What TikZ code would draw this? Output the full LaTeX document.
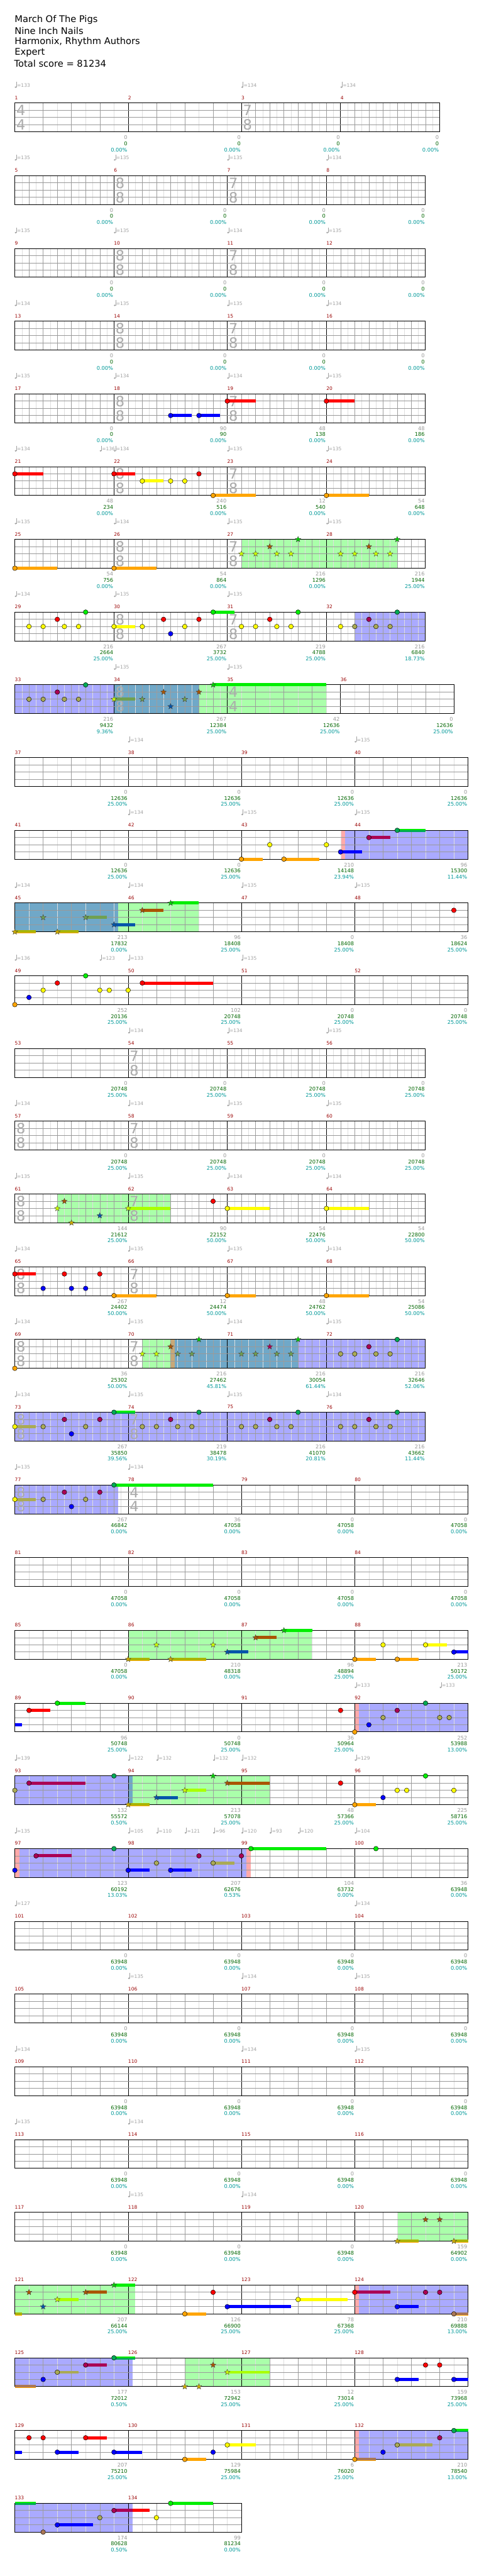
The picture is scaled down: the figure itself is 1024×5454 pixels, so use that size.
\documentclass[tikz,border=0pt]{standalone}
\usepackage{fontspec}
\setmainfont{DejaVu Sans}
\usetikzlibrary{shapes.geometric, backgrounds}

% colours of the chart
\definecolor{barred}{HTML}{990000}
\definecolor{tempogray}{HTML}{A0A0A0}
\definecolor{siggray}{HTML}{ABABAB}
\definecolor{ptgray}{HTML}{999999}
\definecolor{ptgreen}{HTML}{006600}
\definecolor{ptteal}{HTML}{009999}
\definecolor{spgreen}{HTML}{AAFFAA}
\definecolor{odblue}{HTML}{AAAAFF}
\definecolor{odboth}{HTML}{70A8C8}
\definecolor{odpink}{HTML}{FFAAAA}
\definecolor{odtan}{HTML}{C8A878}
% frets
\definecolor{nG}{HTML}{00EE00}
\definecolor{nR}{HTML}{FF0000}
\definecolor{nY}{HTML}{FFFF00}
\definecolor{nB}{HTML}{0000FF}
\definecolor{nO}{HTML}{FFA500}
% frets under overdrive
\definecolor{aG}{HTML}{00AA55}
\definecolor{aR}{HTML}{AA0055}
\definecolor{aY}{HTML}{AAAA55}
\definecolor{aO}{HTML}{AA7755}
% star notes
\definecolor{sG}{HTML}{00CC00}
\definecolor{sR}{HTML}{AA5500}
\definecolor{sY}{HTML}{CCFF00}
\definecolor{sB}{HTML}{0055AA}
\definecolor{sO}{HTML}{CCAA00}
\definecolor{sYs}{HTML}{AAFF00}
\definecolor{sOs}{HTML}{AAB400}
\definecolor{sYd}{HTML}{70A050}

\tikzset{
    note/.style={circle, draw=black, line width=0.6pt, minimum size=10pt, inner sep=0pt},
    starnote/.style={star, star points=5, star point ratio=2.3, draw=black!75, line width=0.5pt, minimum size=12.5pt, inner sep=0pt},
    barnum/.style={anchor=west, text=barred, font=\fontsize{10}{11}\selectfont, inner sep=0pt},
    tempotext/.style={anchor=west, text=tempogray, font=\fontsize{10}{11}\selectfont, inner sep=0pt},
    sig/.style={text=siggray, font=\fontsize{30}{30}\selectfont, inner sep=0pt},
    ptsa/.style={anchor=east, text=ptgray, font=\fontsize{11}{12}\selectfont, inner sep=0pt},
    ptsb/.style={anchor=east, text=ptgreen, font=\fontsize{11}{12}\selectfont, inner sep=0pt},
    ptsc/.style={anchor=east, text=ptteal, font=\fontsize{11}{12}\selectfont, inner sep=0pt},
    titletext/.style={anchor=west, font=\fontsize{19.5}{22}\selectfont, inner sep=0pt},
    subline/.style={draw=black!13, line width=0.6pt},
    beatline/.style={draw=black!38, line width=0.7pt},
    laneline/.style={draw=black!40, line width=1.1pt},
    barline/.style={draw=black, line width=0.8pt},
    staffbox/.style={draw=black, line width=1.3pt}
}

\newcounter{nn}
% one row of the chart, #1 = row index
\newenvironment{chartrow}[1]{\begin{scope}[shift={(0,{218+154*(#1)})}]}{\end{scope}}

% measure: number, start, length, beat (in eighths)
\newcommand{\meas}[4]{%
  \pgfmathtruncatemacro{\mnum}{#1}%
  \pgfmathsetmacro{\mx}{31.4+30*(#2)}%
  \pgfmathsetmacro{\mdx}{15*(#4)}%
  \pgfmathtruncatemacro{\msub}{2*(#3)/(#4)-1}%
  \foreach \kk in {1,...,\msub}{%
    \pgfmathtruncatemacro{\kodd}{mod(\kk,2)}%
    \ifnum\kodd=1 \draw[subline] ({\mx+\kk*\mdx},0) -- ++(0,61);%
    \else \draw[beatline] ({\mx+\kk*\mdx},0) -- ++(0,61);\fi}%
  \draw[barline] (\mx,0) -- ++(0,61);%
  \node[barnum] (m\mnum) at (\mx,-11) {\mnum};%
}
\newcommand{\staff}[1]{%
  \pgfmathsetmacro{\sx}{31.4+30*(#1)}%
  \foreach \lane in {1,2,3}{\draw[laneline] (31.4,{15.25*\lane}) -- (\sx,{15.25*\lane});}%
  \draw[staffbox] (31.4,0) rectangle (\sx,61);}
\newcommand{\tsig}[3]{\stepcounter{nn}%
  \node[sig] (s\arabic{nn}a) at ({31.4+30*(#1)+13},15.5) {#2};%
  \node[sig] (s\arabic{nn}b) at ({31.4+30*(#1)+13},46) {#3};}
\newcommand{\tempo}[2]{\stepcounter{nn}%
  \pgfmathsetmacro{\tx}{31.4+30*(#1)}%
  \fill[tempogray] ({\tx+1.7},-33.5) ellipse (2pt and 1.7pt);%
  \draw[tempogray, line width=0.7pt] ({\tx+3.5},-33.5) -- ({\tx+3.5},-44.5);%
  \node[tempotext] (t\arabic{nn}) at ({\tx+4.6},-37.5) {=#2};}
\newcommand{\pts}[4]{\stepcounter{nn}%
  \pgfmathsetmacro{\px}{31.4+30*(#1)-1.5}%
  \node[ptsa] (p\arabic{nn}a) at (\px,73) {#2};%
  \node[ptsb] (p\arabic{nn}b) at (\px,86) {#3};%
  \node[ptsc] (p\arabic{nn}c) at (\px,99) {#4\%};}
\newcommand{\region}[3]{\begin{scope}[on background layer]%
  \fill[#3] ({31.4+30*(#1)},0) rectangle ({31.4+30*(#2)},61);\end{scope}}
% notes: time, lane (0 green .. 4 orange), colour
\newcommand{\nt}[3]{\stepcounter{nn}%
  \node[note, fill=#3] (n\arabic{nn}) at ({31.4+30*(#1)},{15.25*(#2)}) {};}
\newcommand{\st}[3]{\stepcounter{nn}%
  \node[starnote, fill=#3] (n\arabic{nn}) at ({31.4+30*(#1)},{15.25*(#2)}) {};}
\newcommand{\sus}[4]{\fill[#4] ({31.4+30*(#1)},{15.25*(#2)-3.3}) rectangle ++({30*(#3)},6.6);}
\newcommand{\ns}[4]{\sus{#1}{#2}{#4}{#3}\nt{#1}{#2}{#3}}
\newcommand{\susgg}[3]{%
  \fill[nG] ({31.4+30*(#1)},{15.25*(#2)-3.3}) rectangle ++({30*(#3)},3.3);%
  \fill[aG] ({31.4+30*(#1)},{15.25*(#2)}) rectangle ++({30*(#3)},3.3);}
\newcommand{\suso}[3]{%
  \fill[#3] ({31.4+30*(#1)},57.7) rectangle ++({30*(#2)},5);%
  \fill[nO] ({31.4+30*(#1)},62.7) rectangle ++({30*(#2)},1.6);}

% row layouts
\newcommand{\rowfourfour}[1]{\meas{#1}{0}{8}{2}\meas{#1+1}{8}{8}{2}\meas{#1+2}{16}{8}{2}\meas{#1+3}{24}{8}{2}\staff{32}}
\newcommand{\rowseven}[1]{\meas{#1}{0}{7}{1}\meas{#1+1}{7}{8}{1}\meas{#1+2}{15}{7}{1}\meas{#1+3}{22}{7}{1}\staff{29}\tsig{7}{8}{8}\tsig{15}{7}{8}}
\newcommand{\roweight}[1]{\meas{#1}{0}{8}{1}\meas{#1+1}{8}{7}{1}\meas{#1+2}{15}{7}{1}\meas{#1+3}{22}{7}{1}\staff{29}\tsig{0}{8}{8}\tsig{8}{7}{8}}

\begin{document}
\begin{tikzpicture}[x=1pt, y=-1pt]
    \useasboundingbox (0,0) rectangle (1024,5454);
    \begin{scope}[on background layer]
        \fill[white] (0,0) rectangle (1024,5454);
    \end{scope}

    % heading
    \node[titletext] (song) at (31,42) {March Of The Pigs};
    \node[titletext] (artist) at (31,65) {Nine Inch Nails};
    \node[titletext] (charter) at (31,88) {Harmonix, Rhythm Authors};
    \node[titletext] (level) at (31,111) {Expert};
    \node[titletext] (total) at (30,134) {Total score = 81234};

    % 1-4
    \begin{chartrow}{0}
        \meas{1}{0}{8}{2}\meas{2}{8}{8}{2}\meas{3}{16}{7}{1}\meas{4}{23}{7}{1}\staff{30}
        \tsig{0}{4}{4}\tsig{16}{7}{8}
        \tempo{0}{133}\tempo{16}{134}\tempo{23}{134}
        \pts{8}{0}{0}{0.00}\pts{16}{0}{0}{0.00}\pts{23}{0}{0}{0.00}\pts{30}{0}{0}{0.00}
    \end{chartrow}
    % 5-8
    \begin{chartrow}{1}
        \rowseven{5}
        \tempo{0}{135}\tempo{7}{135}\tempo{15}{135}\tempo{22}{134}
        \pts{7}{0}{0}{0.00}\pts{15}{0}{0}{0.00}\pts{22}{0}{0}{0.00}\pts{29}{0}{0}{0.00}
    \end{chartrow}
    % 9-12
    \begin{chartrow}{2}
        \rowseven{9}
        \tempo{0}{135}\tempo{7}{135}\tempo{15}{134}\tempo{22}{135}
        \pts{7}{0}{0}{0.00}\pts{15}{0}{0}{0.00}\pts{22}{0}{0}{0.00}\pts{29}{0}{0}{0.00}
    \end{chartrow}
    % 13-16
    \begin{chartrow}{3}
        \rowseven{13}
        \tempo{0}{134}\tempo{7}{135}\tempo{15}{135}\tempo{22}{134}
        \pts{7}{0}{0}{0.00}\pts{15}{0}{0}{0.00}\pts{22}{0}{0}{0.00}\pts{29}{0}{0}{0.00}
    \end{chartrow}
    % 17-20
    \begin{chartrow}{4}
        \rowseven{17}
        \tempo{0}{135}\tempo{7}{134}\tempo{15}{134}\tempo{22}{135}
        \ns{11}{3}{nB}{1.5}\ns{13}{3}{nB}{1.5}\ns{15}{1}{nR}{2}\ns{22}{1}{nR}{2}
        \pts{7}{0}{0}{0.00}\pts{15}{90}{90}{0.00}\pts{22}{48}{138}{0.00}\pts{29}{48}{186}{0.00}
    \end{chartrow}
    % 21-24
    \begin{chartrow}{5}
        \rowseven{21}
        \tempo{0}{134}\tempo{6}{136}\tempo{7}{134}\tempo{15}{135}\tempo{22}{135}
        \ns{0}{1}{nR}{2}\ns{7}{1}{nR}{1.5}\ns{9}{2}{nY}{1.5}\nt{11}{2}{nY}\nt{12}{2}{nY}\nt{13}{1}{nR}
        \ns{14}{4}{nO}{3}\ns{22}{4}{nO}{3}
        \pts{7}{48}{234}{0.00}\pts{15}{240}{516}{0.00}\pts{22}{12}{540}{0.00}\pts{29}{54}{648}{0.00}
    \end{chartrow}
    % 25-28
    \begin{chartrow}{6}
        \rowseven{25}
        \tempo{0}{135}\tempo{7}{134}\tempo{15}{135}\tempo{22}{135}
        \region{16}{27}{spgreen}
        \ns{0}{4}{nO}{3}\ns{7}{4}{nO}{3}
        \st{16}{2}{sY}\st{17}{2}{sY}\st{18}{1}{sR}\st{18.5}{2}{sY}\st{19.5}{2}{sY}\st{20}{0}{sG}
        \st{23}{2}{sY}\st{24}{2}{sY}\st{25}{1}{sR}\st{25.5}{2}{sY}\st{26.5}{2}{sY}\st{27}{0}{sG}
        \pts{7}{54}{756}{0.00}\pts{15}{54}{864}{0.00}\pts{22}{216}{1296}{0.00}\pts{29}{216}{1944}{25.00}
    \end{chartrow}
    % 29-32
    \begin{chartrow}{7}
        \rowseven{29}
        \tempo{0}{134}\tempo{7}{135}\tempo{15}{135}
        \region{24}{29}{odblue}
        \nt{1}{2}{nY}\nt{2}{2}{nY}\nt{3}{1}{nR}\nt{3.5}{2}{nY}\nt{4.5}{2}{nY}\nt{5}{0}{nG}
        \ns{7}{2}{nY}{1.5}\nt{9}{2}{nY}\nt{10.5}{1}{nR}\nt{11}{3}{nB}\nt{12}{2}{nY}\nt{13}{1}{nR}\ns{14}{0}{nG}{1.5}
        \nt{16}{2}{nY}\nt{17}{2}{nY}\nt{18}{1}{nR}\nt{18.5}{2}{nY}\nt{19.5}{2}{nY}\nt{20}{0}{nG}
        \nt{23}{2}{nY}\nt{24}{2}{aY}\nt{25}{1}{aR}\nt{25.5}{2}{aY}\nt{26.5}{2}{aY}\nt{27}{0}{aG}
        \pts{7}{216}{2664}{25.00}\pts{15}{267}{3732}{25.00}\pts{22}{219}{4788}{25.00}\pts{29}{216}{6840}{18.73}
    \end{chartrow}
    % 33-36
    \begin{chartrow}{8}
        \meas{33}{0}{7}{1}\meas{34}{7}{8}{1}\meas{35}{15}{8}{2}\meas{36}{23}{8}{2}\staff{31}
        \tsig{7}{8}{8}\tsig{15}{4}{4}
        \tempo{7}{135}\tempo{15}{135}
        \region{0}{7}{odblue}\region{7}{13}{odboth}\region{13}{22}{spgreen}
        \nt{1}{2}{aY}\nt{2}{2}{aY}\nt{3}{1}{aR}\nt{3.5}{2}{aY}\nt{4.5}{2}{aY}\nt{5}{0}{aG}
        \sus{7}{2}{1.5}{sYd}\st{7}{2}{sY}\st{9}{2}{sYd}\st{10.5}{1}{sR}\st{11}{3}{sB}\st{12}{2}{sYd}\st{13}{1}{sR}
        \sus{14}{0}{8}{nG}\st{14}{0}{sG}
        \pts{7}{216}{9432}{9.36}\pts{15}{267}{12384}{25.00}\pts{23}{42}{12636}{25.00}\pts{31}{0}{12636}{25.00}
    \end{chartrow}
    % 37-40
    \begin{chartrow}{9}
        \rowfourfour{37}
        \tempo{8}{134}\tempo{24}{135}
        \pts{8}{0}{12636}{25.00}\pts{16}{0}{12636}{25.00}\pts{24}{0}{12636}{25.00}\pts{32}{0}{12636}{25.00}
    \end{chartrow}
    % 41-44
    \begin{chartrow}{10}
        \rowfourfour{41}
        \tempo{8}{134}\tempo{16}{135}\tempo{24}{135}
        \region{23}{23.3}{odpink}\region{23.3}{32}{odblue}
        \ns{16}{4}{nO}{1.5}\nt{18}{2}{nY}\ns{19}{4}{nO}{2.5}\nt{22}{2}{nY}\ns{23}{3}{nB}{1.5}
        \ns{25}{1}{aR}{1.5}\susgg{27}{0}{2}\nt{27}{0}{aG}
        \pts{8}{0}{12636}{25.00}\pts{16}{0}{12636}{25.00}\pts{24}{210}{14148}{23.94}\pts{32}{96}{15300}{11.44}
    \end{chartrow}
    % 45-48
    \begin{chartrow}{11}
        \rowfourfour{45}
        \tempo{0}{134}\tempo{8}{134}\tempo{16}{135}\tempo{24}{135}
        \region{0}{7.3}{odboth}\region{7.3}{13}{spgreen}
        \suso{0}{1.5}{sOs}\st{0}{4}{sO}\st{2}{2}{sYd}\suso{3}{1.5}{sOs}\st{3}{4}{sO}
        \sus{5}{2}{1.5}{sYd}\st{5}{2}{sYd}\sus{7}{3}{1.5}{sB}\st{7}{3}{sB}
        \sus{9}{1}{1.5}{sR}\st{9}{1}{sR}\sus{11}{0}{2}{nG}\st{11}{0}{sG}
        \nt{31}{1}{nR}
        \pts{8}{213}{17832}{0.00}\pts{16}{96}{18408}{25.00}\pts{24}{0}{18408}{25.00}\pts{32}{36}{18624}{25.00}
    \end{chartrow}
    % 49-52
    \begin{chartrow}{12}
        \rowfourfour{49}
        \tempo{0}{136}\tempo{6}{123}\tempo{8}{133}\tempo{16}{135}
        \nt{0}{4}{nO}\nt{1}{3}{nB}\nt{2}{2}{nY}\nt{3}{1}{nR}\nt{5}{0}{nG}\nt{6}{2}{nY}\nt{6.67}{2}{nY}\nt{8}{2}{nY}
        \ns{9}{1}{nR}{5}
        \pts{8}{252}{20136}{25.00}\pts{16}{102}{20748}{25.00}\pts{24}{0}{20748}{25.00}\pts{32}{0}{20748}{25.00}
    \end{chartrow}
    % 53-56
    \begin{chartrow}{13}
        \meas{53}{0}{8}{2}\meas{54}{8}{7}{1}\meas{55}{15}{7}{1}\meas{56}{22}{7}{1}\staff{29}
        \tsig{8}{7}{8}
        \tempo{8}{134}\tempo{15}{134}\tempo{22}{135}
        \pts{8}{0}{20748}{25.00}\pts{15}{0}{20748}{25.00}\pts{22}{0}{20748}{25.00}\pts{29}{0}{20748}{25.00}
    \end{chartrow}
    % 57-60
    \begin{chartrow}{14}
        \roweight{57}
        \tempo{0}{134}\tempo{8}{134}\tempo{15}{135}\tempo{22}{135}
        \pts{8}{0}{20748}{25.00}\pts{15}{0}{20748}{25.00}\pts{22}{0}{20748}{25.00}\pts{29}{0}{20748}{25.00}
    \end{chartrow}
    % 61-64
    \begin{chartrow}{15}
        \roweight{61}
        \tempo{0}{135}\tempo{8}{135}\tempo{15}{134}\tempo{22}{134}
        \region{3}{11}{spgreen}
        \st{3}{2}{sY}\st{3.5}{1}{sR}\st{4}{4}{sO}\st{6}{3}{sB}\sus{8}{2}{3}{sYs}\st{8}{2}{sY}
        \nt{14}{1}{nR}\ns{15}{2}{nY}{3}\ns{22}{2}{nY}{3}
        \pts{8}{144}{21612}{25.00}\pts{15}{90}{22152}{50.00}\pts{22}{54}{22476}{50.00}\pts{29}{54}{22800}{50.00}
    \end{chartrow}
    % 65-68
    \begin{chartrow}{16}
        \roweight{65}
        \tempo{0}{134}\tempo{8}{135}\tempo{15}{135}\tempo{22}{134}
        \ns{0}{1}{nR}{1.5}\nt{2}{3}{nB}\nt{3.5}{1}{nR}\nt{4}{3}{nB}\nt{5}{3}{nB}\nt{6}{1}{nR}
        \ns{7}{4}{nO}{3}\ns{15}{4}{nO}{2}\ns{22}{4}{nO}{3}
        \pts{8}{267}{24402}{50.00}\pts{15}{12}{24474}{50.00}\pts{22}{48}{24762}{50.00}\pts{29}{54}{25086}{50.00}
    \end{chartrow}
    % 69-72
    \begin{chartrow}{17}
        \roweight{69}
        \tempo{0}{134}\tempo{8}{135}\tempo{15}{134}\tempo{22}{135}
        \region{9}{11}{spgreen}\region{11}{11.3}{odtan}\region{11.3}{20}{odboth}\region{20}{29}{odblue}
        \nt{0}{4}{nO}
        \st{9}{2}{sY}\st{10}{2}{sY}\st{11}{1}{sR}\st{11.5}{2}{sYd}\st{12.5}{2}{sYd}\st{13}{0}{sG}
        \st{16}{2}{sYd}\st{17}{2}{sYd}\st{18}{1}{aR}\st{18.5}{2}{sYd}\st{19.5}{2}{sYd}\st{20}{0}{sG}
        \nt{23}{2}{aY}\nt{24}{2}{aY}\nt{25}{1}{aR}\nt{25.5}{2}{aY}\nt{26.5}{2}{aY}\nt{27}{0}{aG}
        \pts{8}{36}{25302}{50.00}\pts{15}{216}{27462}{45.81}\pts{22}{216}{30054}{61.44}\pts{29}{216}{32646}{52.06}
    \end{chartrow}
    % 73-76
    \begin{chartrow}{18}
        \roweight{73}
        \tempo{0}{134}\tempo{8}{135}\tempo{15}{135}\tempo{22}{134}
        \region{0}{29}{odblue}
        \sus{0}{2}{1.5}{aY}\nt{0}{2}{nY}\nt{2}{2}{aY}\nt{3.5}{1}{aR}\nt{4}{3}{nB}\nt{5}{2}{aY}\nt{6}{1}{aR}\susgg{7}{0}{1.5}\nt{7}{0}{aG}
        \nt{9}{2}{aY}\nt{10}{2}{aY}\nt{11}{1}{aR}\nt{11.5}{2}{aY}\nt{12.5}{2}{aY}\nt{13}{0}{aG}
        \nt{16}{2}{aY}\nt{17}{2}{aY}\nt{18}{1}{aR}\nt{18.5}{2}{aY}\nt{19.5}{2}{aY}\nt{20}{0}{aG}
        \nt{23}{2}{aY}\nt{24}{2}{aY}\nt{25}{1}{aR}\nt{25.5}{2}{aY}\nt{26.5}{2}{aY}\nt{27}{0}{aG}
        \pts{8}{267}{35850}{39.56}\pts{15}{219}{38478}{30.19}\pts{22}{216}{41070}{20.81}\pts{29}{216}{43662}{11.44}
    \end{chartrow}
    % 77-80
    \begin{chartrow}{19}
        \meas{77}{0}{8}{1}\meas{78}{8}{8}{2}\meas{79}{16}{8}{2}\meas{80}{24}{8}{2}\staff{32}
        \tsig{0}{8}{8}\tsig{8}{4}{4}
        \tempo{0}{135}\tempo{8}{134}
        \region{0}{7.3}{odblue}
        \sus{0}{2}{1.5}{aY}\nt{0}{2}{nY}\nt{2}{2}{aY}\nt{3.5}{1}{aR}\nt{4}{3}{nB}\nt{5}{2}{aY}\nt{6}{1}{aR}
        \sus{7}{0}{7}{nG}\nt{7}{0}{aG}
        \pts{8}{267}{46842}{0.00}\pts{16}{36}{47058}{0.00}\pts{24}{0}{47058}{0.00}\pts{32}{0}{47058}{0.00}
    \end{chartrow}
    % 81-84
    \begin{chartrow}{20}
        \rowfourfour{81}
        \pts{8}{0}{47058}{0.00}\pts{16}{0}{47058}{0.00}\pts{24}{0}{47058}{0.00}\pts{32}{0}{47058}{0.00}
    \end{chartrow}
    % 85-88
    \begin{chartrow}{21}
        \rowfourfour{85}
        \region{8}{21}{spgreen}
        \suso{8}{1.5}{sOs}\st{8}{4}{sO}\st{10}{2}{sY}\suso{11}{2.5}{sOs}\st{11}{4}{sO}\st{14}{2}{sY}
        \sus{15}{3}{1.5}{sB}\st{15}{3}{sB}\sus{17}{1}{1.5}{sR}\st{17}{1}{sR}\sus{19}{0}{2}{nG}\st{19}{0}{sG}
        \ns{24}{4}{nO}{1.5}\nt{26}{2}{nY}\ns{27}{4}{nO}{1.5}\ns{29}{2}{nY}{1.5}\ns{31}{3}{nB}{1}
        \pts{8}{0}{47058}{0.00}\pts{16}{210}{48318}{0.00}\pts{24}{96}{48894}{25.00}\pts{32}{213}{50172}{25.00}
    \end{chartrow}
    % 89-92
    \begin{chartrow}{22}
        \rowfourfour{89}
        \tempo{24}{133}\tempo{30}{133}
        \region{24}{24.3}{odpink}\region{24.3}{32}{odblue}
        \sus{0}{3}{0.5}{nB}\ns{1}{1}{nR}{1.5}\ns{3}{0}{nG}{2}\nt{23}{1}{nR}
        \nt{24}{4}{nO}\nt{25}{3}{nB}\nt{26}{2}{aY}\nt{27}{1}{aR}\nt{29}{0}{aG}\nt{30}{2}{aY}\nt{30.67}{2}{aY}
        \pts{8}{96}{50748}{25.00}\pts{16}{0}{50748}{25.00}\pts{24}{36}{50964}{25.00}\pts{32}{252}{53988}{13.00}
    \end{chartrow}
    % 93-96
    \begin{chartrow}{23}
        \rowfourfour{93}
        \tempo{0}{139}\tempo{8}{122}\tempo{10}{132}\tempo{14}{132}\tempo{16}{132}\tempo{24}{129}
        \region{0}{8}{odblue}\region{8}{8.3}{odboth}\region{8.3}{18}{spgreen}
        \nt{0}{2}{aY}\ns{1}{1}{aR}{4}\nt{7}{0}{aG}
        \suso{8}{1.5}{sOs}\st{8}{4}{sO}\sus{10}{3}{1.5}{sB}\st{10}{3}{sB}\sus{12}{2}{1.5}{sYs}\st{12}{2}{sY}
        \st{14}{0}{sG}\sus{15}{1}{3}{sR}\st{15}{1}{sR}
        \nt{23}{1}{nR}\ns{24}{4}{nO}{1.5}\nt{26}{3}{nB}\nt{27}{2}{nY}\nt{27.67}{2}{nY}\nt{29}{0}{nG}\nt{31}{2}{nY}
        \pts{8}{132}{55572}{0.50}\pts{16}{213}{57078}{25.00}\pts{24}{48}{57366}{25.00}\pts{32}{225}{58716}{25.00}
    \end{chartrow}
    % 97-100
    \begin{chartrow}{24}
        \rowfourfour{97}
        \tempo{0}{135}\tempo{8}{105}\tempo{10}{110}\tempo{12}{121}\tempo{14}{96}\tempo{16}{120}\tempo{18}{93}\tempo{20}{120}\tempo{24}{104}
        \region{0}{0.33}{odpink}\region{0.33}{16.33}{odblue}\region{16.33}{16.67}{odpink}
        \nt{0}{3}{nB}\ns{1.5}{1}{aR}{2.5}\nt{7}{0}{aG}\ns{8}{3}{nB}{1.5}\nt{10}{2}{aY}\ns{11}{3}{nB}{1.5}
        \nt{13}{1}{aR}\ns{14}{2}{aY}{1.5}\nt{16}{1}{aR}\ns{16.67}{0}{nG}{5.33}\nt{25.5}{0}{nG}
        \pts{8}{123}{60192}{13.03}\pts{16}{207}{62676}{0.53}\pts{24}{104}{63732}{0.00}\pts{32}{36}{63948}{0.00}
    \end{chartrow}
    % 101-104
    \begin{chartrow}{25}
        \rowfourfour{101}
        \tempo{0}{127}\tempo{24}{134}
        \pts{8}{0}{63948}{0.00}\pts{16}{0}{63948}{0.00}\pts{24}{0}{63948}{0.00}\pts{32}{0}{63948}{0.00}
    \end{chartrow}
    % 105-108
    \begin{chartrow}{26}
        \rowfourfour{105}
        \tempo{8}{135}\tempo{16}{134}\tempo{24}{135}
        \pts{8}{0}{63948}{0.00}\pts{16}{0}{63948}{0.00}\pts{24}{0}{63948}{0.00}\pts{32}{0}{63948}{0.00}
    \end{chartrow}
    % 109-112
    \begin{chartrow}{27}
        \rowfourfour{109}
        \tempo{0}{134}\tempo{16}{134}\tempo{24}{135}
        \pts{8}{0}{63948}{0.00}\pts{16}{0}{63948}{0.00}\pts{24}{0}{63948}{0.00}\pts{32}{0}{63948}{0.00}
    \end{chartrow}
    % 113-116
    \begin{chartrow}{28}
        \rowfourfour{113}
        \tempo{0}{135}\tempo{8}{134}
        \pts{8}{0}{63948}{0.00}\pts{16}{0}{63948}{0.00}\pts{24}{0}{63948}{0.00}\pts{32}{0}{63948}{0.00}
    \end{chartrow}
    % 117-120
    \begin{chartrow}{29}
        \rowfourfour{117}
        \tempo{8}{135}\tempo{16}{134}
        \region{27}{32}{spgreen}
        \suso{27}{1.5}{sOs}\st{27}{4}{sO}\st{29}{1}{sR}\st{30}{1}{sR}\suso{31}{1}{sOs}\st{31}{4}{sO}
        \pts{8}{0}{63948}{0.00}\pts{16}{0}{63948}{0.00}\pts{24}{0}{63948}{0.00}\pts{32}{159}{64902}{0.00}
    \end{chartrow}
    % 121-124
    \begin{chartrow}{30}
        \rowfourfour{121}
        \region{0}{8.5}{spgreen}\region{24}{24.3}{odpink}\region{24.3}{32}{odblue}
        \suso{0}{0.5}{sOs}\st{1}{1}{sR}\st{2}{3}{sB}\sus{3}{2}{1.5}{sYs}\st{3}{2}{sY}
        \sus{5}{1}{1.5}{sR}\st{5}{1}{sR}\sus{7}{0}{1.5}{nG}\st{7}{0}{sG}
        \ns{12}{4}{nO}{1.5}\nt{14}{1}{nR}\ns{15}{3}{nB}{4.5}\ns{20}{2}{nY}{3.5}
        \sus{24}{1}{2.5}{aR}\nt{24}{1}{nR}\ns{27}{3}{nB}{1.5}\nt{29}{1}{aR}\nt{30}{1}{aR}\suso{31}{1}{aO}\nt{31}{4}{aO}
        \pts{8}{207}{66144}{25.00}\pts{16}{126}{66900}{25.00}\pts{24}{78}{67368}{25.00}\pts{32}{210}{69888}{13.00}
    \end{chartrow}
    % 125-128
    \begin{chartrow}{31}
        \rowfourfour{125}
        \region{0}{8.3}{odblue}\region{12}{18}{spgreen}
        \suso{0}{1.5}{aO}\nt{2}{3}{nB}\ns{3}{2}{aY}{1.5}\ns{5}{1}{aR}{1.5}\susgg{7}{0}{1.5}\nt{7}{0}{aG}
        \st{12}{4}{sO}\st{13}{4}{sO}\st{14}{1}{sR}\sus{15}{2}{3}{sYs}\st{15}{2}{sY}
        \ns{27}{3}{nB}{1.5}\nt{29}{1}{nR}\nt{30}{1}{nR}\ns{31}{3}{nB}{1}
        \pts{8}{177}{72012}{0.50}\pts{16}{153}{72942}{25.00}\pts{24}{12}{73014}{25.00}\pts{32}{159}{73968}{25.00}
    \end{chartrow}
    % 129-132
    \begin{chartrow}{32}
        \rowfourfour{129}
        \region{24}{24.3}{odpink}\region{24.3}{32}{odblue}
        \sus{0}{3}{0.5}{nB}\nt{1}{1}{nR}\nt{2}{1}{nR}\ns{3}{3}{nB}{1.5}\ns{5}{1}{nR}{1.5}\ns{7}{3}{nB}{2}
        \ns{12}{4}{nO}{1.5}\nt{14}{3}{nB}\ns{15}{2}{nY}{2}
        \suso{24}{1.5}{aO}\nt{24}{4}{nO}\nt{26}{3}{nB}\ns{27}{2}{aY}{2.5}\nt{30}{1}{aR}\susgg{31}{0}{1}\nt{31}{0}{aG}
        \pts{8}{207}{75210}{25.00}\pts{16}{129}{75984}{25.00}\pts{24}{6}{76020}{25.00}\pts{32}{210}{78540}{13.00}
    \end{chartrow}
    % 133-134
    \begin{chartrow}{33}
        \meas{133}{0}{8}{2}\meas{134}{8}{8}{2}\staff{16}
        \region{0}{8.3}{odblue}
        \susgg{0}{0}{1.5}\nt{2}{4}{aO}\ns{3}{3}{nB}{2.5}\nt{6}{2}{aY}
        \sus{7}{1}{1.3}{aR}\sus{8.3}{1}{1.2}{nR}\nt{7}{1}{aR}\nt{10}{2}{nY}\ns{11}{0}{nG}{3}
        \pts{8}{174}{80628}{0.50}\pts{16}{99}{81234}{0.00}
    \end{chartrow}

\end{tikzpicture}
\end{document}
